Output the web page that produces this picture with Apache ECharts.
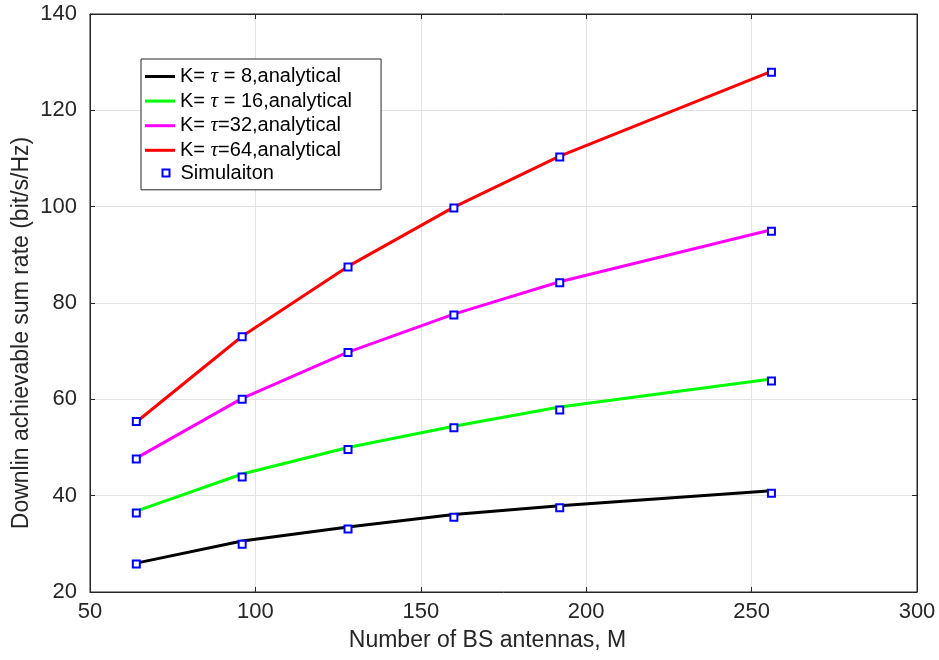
<!DOCTYPE html>
<html>
<head>
<meta charset="utf-8">
<script src="https://cdn.jsdelivr.net/npm/echarts@6/dist/echarts.min.js"></script>
<style>
  html, body { margin: 0; padding: 0; background: #fff; }
  #main { width: 939px; height: 660px; }
</style>
</head>
<body>
<div id="main"></div>
<script>
// number of BS antennas
var antennas = [64, 96, 128, 160, 192, 256];

// analytical curves
var anaK8  = [26.0, 30.6, 33.5, 36.1, 37.9, 41.0];
var anaK16 = [36.8, 44.5, 50.0, 54.4, 58.4, 64.2];
var anaK32 = [47.8, 60.2, 69.8, 77.7, 84.4, 95.2];
var anaK64 = [55.3, 73.1, 87.6, 99.9, 110.5, 128.1];

// simulation points
var simK8  = [25.8, 29.9, 33.1, 35.5, 37.5, 40.5];
var simK16 = [36.4, 43.9, 49.6, 54.1, 57.8, 63.8];
var simK32 = [47.6, 60.0, 69.7, 77.5, 84.2, 94.9];
var simK64 = [55.4, 73.0, 87.5, 99.7, 110.3, 127.9];

var lineNames = ['K= τ = 8,analytical', 'K= τ = 16,analytical', 'K= τ=32,analytical', 'K= τ=64,analytical'];
var lineColors = ['#000000', '#00ff00', '#ff00ff', '#ff0000'];
var simName = 'Simulaiton';

function pairs(ys) {
  var out = [];
  for (var i = 0; i < antennas.length; i++) out.push([antennas[i], ys[i]]);
  return out;
}

var font = 'Liberation Sans, Arial, sans-serif';
var axisColor = '#262626';

var myChart = echarts.init(document.getElementById('main'));

var seriesArray = [];
var ana = [anaK8, anaK16, anaK32, anaK64];
var sim = [simK8, simK16, simK32, simK64];
for (var i = 0; i < ana.length; i++) {
  seriesArray.push({
    name: lineNames[i],
    type: 'line',
    data: pairs(ana[i]),
    symbol: 'none',
    color: lineColors[i],
    lineStyle: { width: 3, color: lineColors[i] },
    z: 2
  });
}
for (var j = 0; j < sim.length; j++) {
  seriesArray.push({
    name: simName,
    type: 'scatter',
    data: pairs(sim[j]),
    symbol: 'rect',
    symbolSize: 7,
    itemStyle: { color: '#ffffff', borderColor: '#0000ff', borderWidth: 2, opacity: 1 },
    z: 3
  });
}

var legendLines = [];
for (var k = 0; k < lineNames.length; k++) legendLines.push({ name: lineNames[k], icon: 'rect' });

myChart.setOption({
  animation: false,
  backgroundColor: '#ffffff',
  grid: {
    left: 90, right: 22, top: 14, bottom: 68,
    outerBoundsMode: 'none',
    show: true, borderColor: axisColor, borderWidth: 1, backgroundColor: '#ffffff'
  },
  legend: [{
    data: legendLines,
    orient: 'vertical',
    left: 141, top: 59,
    itemWidth: 30, itemHeight: 3, itemGap: 3.6,
    padding: [7, 29, 29, 4],
    borderColor: axisColor, borderWidth: 1, backgroundColor: '#ffffff',
    textStyle: {
      fontFamily: font, fontSize: 20, color: '#000', lineHeight: 20,
      rich: { t: { fontFamily: 'Liberation Serif, serif', fontStyle: 'italic', fontSize: 21, color: '#000' } }
    },
    formatter: function (name) { return name.replace('τ', '{t|τ}'); },
    selectedMode: false
  }, {
    data: [{ name: simName, icon: 'rect' }],
    orient: 'vertical',
    left: 156.5, top: 158,
    itemWidth: 7, itemHeight: 7,
    padding: [5, 5, 5, 5],
    textStyle: { fontFamily: font, fontSize: 20, color: '#000', lineHeight: 20, padding: [0, 0, 0, 6] },
    selectedMode: false,
    z: 10
  }],
  xAxis: [{
    type: 'value', min: 50, max: 300, interval: 50,
    name: 'Number of BS antennas, M', nameLocation: 'middle', nameGap: 37,
    nameTextStyle: { fontFamily: font, fontSize: 23, color: axisColor, padding: [0, 32, 0, 0] },
    axisLine: { lineStyle: { color: axisColor } },
    axisTick: { inside: true, length: 5, lineStyle: { color: axisColor } },
    axisLabel: { fontFamily: font, fontSize: 22, color: axisColor, margin: 9 },
    splitLine: { show: true, lineStyle: { color: '#e3e3e3' } }
  }, {
    type: 'value', min: 50, max: 300, interval: 50, position: 'top',
    axisLine: { lineStyle: { color: axisColor } },
    axisTick: { inside: true, length: 5, lineStyle: { color: axisColor } },
    axisLabel: { show: false }, splitLine: { show: false }
  }],
  yAxis: [{
    type: 'value', min: 20, max: 140, interval: 20,
    name: 'Downlin achievable sum rate (bit/s/Hz)', nameLocation: 'middle', nameGap: 57,
    nameMoveOverlap: false,
    nameTextStyle: { fontFamily: font, fontSize: 23, color: axisColor, padding: [0, 60, 0, 0] },
    axisLine: { show: true, lineStyle: { color: axisColor } },
    axisTick: { show: true, inside: true, length: 5, lineStyle: { color: axisColor } },
    axisLabel: { fontFamily: font, fontSize: 22, color: axisColor, margin: 13 },
    splitLine: { show: true, lineStyle: { color: '#e3e3e3' } }
  }, {
    type: 'value', min: 20, max: 140, interval: 20, position: 'right',
    axisLine: { show: true, lineStyle: { color: axisColor } },
    axisTick: { show: true, inside: true, length: 5, lineStyle: { color: axisColor } },
    axisLabel: { show: false }, splitLine: { show: false }
  }],
  series: seriesArray
});
window.onresize = myChart.resize;
</script>
</body>
</html>
